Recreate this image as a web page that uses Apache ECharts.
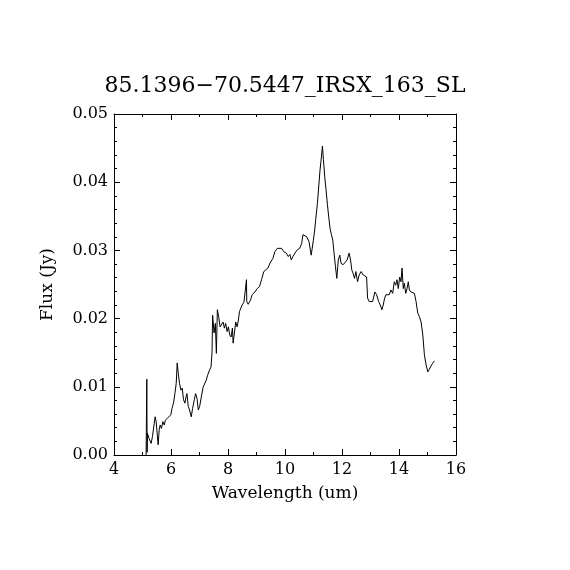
<!DOCTYPE html>
<html>
<head>
<meta charset="utf-8">
<script src="https://cdn.jsdelivr.net/npm/echarts@6/dist/echarts.min.js"></script>
<style>html,body{margin:0;padding:0;background:#fff}#c{width:570px;height:570px}</style>
</head>
<body>
<div id="c"></div>
<script>
var titleText = '85.1396\u221270.5447_IRSX_163_SL';
var xTicks = [4, 6, 8, 10, 12, 14, 16];
var yTicks = [0.00, 0.01, 0.02, 0.03, 0.04, 0.05];
var wavelength = [
5.127,5.151,5.162,5.173,5.232,5.303,5.349,5.444,5.479,5.549,
5.585,5.620,5.665,5.715,5.761,5.806,5.877,5.947,5.996,6.032,
6.088,6.137,6.183,6.218,6.254,6.299,6.349,6.394,6.440,6.489,
6.525,6.560,6.606,6.651,6.711,6.757,6.817,6.863,6.912,6.958,
7.004,7.053,7.123,7.169,7.239,7.285,7.356,7.405,7.440,7.461,
7.511,7.556,7.592,7.627,7.673,7.722,7.778,7.827,7.873,7.919,
7.968,8.014,8.060,8.109,8.155,8.180,8.225,8.271,8.320,8.366,
8.401,8.496,8.560,8.613,8.648,8.658,8.708,8.789,8.849,8.940,
9.025,9.106,9.176,9.257,9.317,9.398,9.493,9.574,9.644,9.729,
9.785,9.880,9.961,10.046,10.116,10.173,10.222,10.278,10.349,10.433,
10.514,10.585,10.630,10.690,10.761,10.842,10.919,10.996,11.042,11.077,
11.137,11.183,11.229,11.278,11.313,11.349,11.394,11.440,11.489,11.535,
11.581,11.630,11.676,11.722,11.771,11.817,11.870,11.923,11.968,12.039,
12.109,12.180,12.250,12.299,12.345,12.391,12.440,12.486,12.546,12.602,
12.673,12.743,12.813,12.863,12.898,12.954,13.014,13.074,13.155,13.215,
13.285,13.342,13.401,13.447,13.496,13.542,13.602,13.658,13.718,13.778,
13.835,13.884,13.930,13.975,14.025,14.070,14.106,14.151,14.187,14.236,
14.282,14.327,14.363,14.423,14.482,14.539,14.599,14.658,14.715,14.775,
14.835,14.891,14.951,15.011,15.056,15.102,15.173,15.243
];
var flux = [
0.0000,0.0111,0.0004,0.0032,0.0024,0.0017,0.0027,0.0056,0.0049,0.0015,
0.0037,0.0044,0.0039,0.0049,0.0044,0.0051,0.0054,0.0056,0.0059,0.0068,
0.0076,0.0090,0.0105,0.0135,0.0120,0.0105,0.0095,0.0098,0.0081,0.0076,
0.0085,0.0090,0.0071,0.0066,0.0056,0.0068,0.0081,0.0090,0.0083,0.0066,
0.0071,0.0073,0.0099,0.0101,0.0110,0.0117,0.0125,0.0129,0.0151,0.0205,
0.0179,0.0193,0.0149,0.0213,0.0203,0.0188,0.0186,0.0195,0.0186,0.0193,
0.0181,0.0188,0.0176,0.0173,0.0186,0.0164,0.0164,0.0195,0.0188,0.0198,
0.0210,0.0220,0.0224,0.0225,0.0257,0.0225,0.0221,0.0227,0.0235,0.0239,
0.0244,0.0247,0.0257,0.0269,0.0271,0.0274,0.0283,0.0288,0.0298,0.0303,
0.0305,0.0303,0.0298,0.0296,0.0291,0.0294,0.0286,0.0291,0.0296,0.0301,
0.0303,0.0310,0.0323,0.0325,0.0320,0.0313,0.0293,0.0315,0.0330,0.0345,
0.0369,0.0393,0.0418,0.0437,0.0453,0.0433,0.0408,0.0389,0.0367,0.0349,
0.0332,0.0323,0.0315,0.0296,0.0276,0.0259,0.0286,0.0293,0.0281,0.0279,
0.0281,0.0286,0.0296,0.0286,0.0271,0.0266,0.0259,0.0269,0.0254,0.0264,
0.0269,0.0264,0.0266,0.0261,0.0230,0.0225,0.0227,0.0225,0.0239,0.0235,
0.0225,0.0220,0.0213,0.0220,0.0230,0.0235,0.0237,0.0235,0.0242,0.0237,
0.0254,0.0249,0.0257,0.0244,0.0261,0.0254,0.0274,0.0244,0.0252,0.0237,
0.0244,0.0254,0.0242,0.0239,0.0239,0.0237,0.0225,0.0208,0.0203,0.0195,
0.0176,0.0147,0.0132,0.0122,0.0125,0.0129,0.0134,0.0138
];

var FONT = 'DejaVu Serif';
var points = wavelength.map(function (w, i) { return [w, flux[i]]; });
var lineStyle = { color: '#000', width: 1 };

function axisBase(extra) {
  var a = {
    axisLine: { show: true, onZero: false, lineStyle: lineStyle },
    axisTick: { show: true, inside: true, length: 6, lineStyle: lineStyle },
    minorTick: { show: true, length: 3, lineStyle: lineStyle },
    splitLine: { show: false },
    minorSplitLine: { show: false }
  };
  for (var k in extra) a[k] = extra[k];
  return a;
}

var chart = echarts.init(document.getElementById('c'), null, { renderer: 'canvas' });
chart.setOption({
  animation: false,
  backgroundColor: '#fff',
  title: {
    text: titleText,
    left: 'center',
    top: 70,
    textStyle: { fontFamily: FONT, fontSize: 22, fontWeight: 'normal', color: '#000' }
  },
  grid: { left: 114, right: 114, top: 114, bottom: 115, containLabel: false },
  xAxis: [
    axisBase({
      type: 'value', position: 'bottom', min: xTicks[0], max: xTicks[xTicks.length - 1], interval: 2,
      minorTick: { show: true, splitNumber: 2, length: 3, lineStyle: lineStyle },
      axisLabel: { show: true, color: '#000', fontFamily: FONT, fontSize: 16, margin: 7 },
      name: 'Wavelength (um)', nameLocation: 'middle', nameGap: 30,
      nameTextStyle: { color: '#000', fontFamily: FONT, fontSize: 17 }
    }),
    axisBase({
      type: 'value', position: 'top', min: xTicks[0], max: xTicks[xTicks.length - 1], interval: 2,
      minorTick: { show: true, splitNumber: 2, length: 3, lineStyle: lineStyle },
      axisLabel: { show: false }
    })
  ],
  yAxis: [
    axisBase({
      type: 'value', position: 'left', min: yTicks[0], max: yTicks[yTicks.length - 1], interval: 0.01,
      minorTick: { show: true, splitNumber: 5, length: 3, lineStyle: lineStyle },
      axisLabel: { show: true, color: '#000', fontFamily: FONT, fontSize: 16, margin: 6,
        formatter: function (v) { return v.toFixed(2); } },
      name: 'Flux (Jy)', nameLocation: 'middle', nameGap: 58,
      nameTextStyle: { color: '#000', fontFamily: FONT, fontSize: 17 }
    }),
    axisBase({
      type: 'value', position: 'right', min: yTicks[0], max: yTicks[yTicks.length - 1], interval: 0.01,
      minorTick: { show: true, splitNumber: 5, length: 3, lineStyle: lineStyle },
      axisLabel: { show: false }
    })
  ],
  series: [{
    type: 'line',
    xAxisIndex: 0,
    yAxisIndex: 0,
    data: points,
    showSymbol: false,
    symbol: 'none',
    smooth: false,
    lineStyle: lineStyle,
    z: 3
  }]
});
</script>
</body>
</html>
